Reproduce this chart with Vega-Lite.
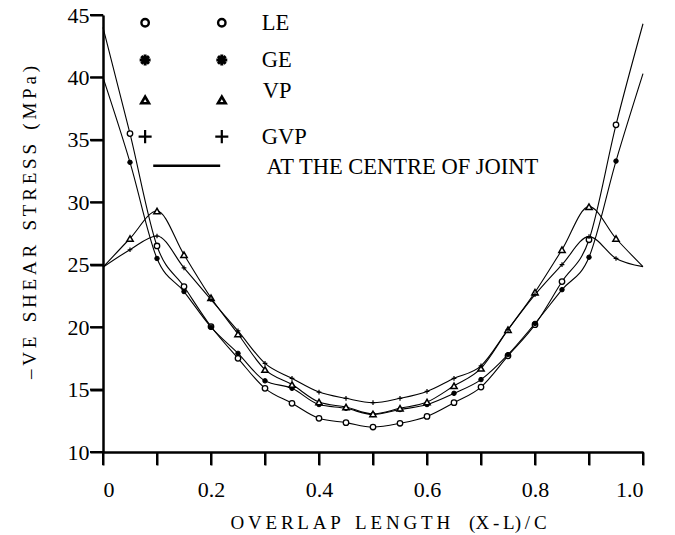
{
  "$schema": "https://vega.github.io/schema/vega-lite/v6.json",
  "width": 540,
  "height": 437,
  "autosize": {"type": "none"},
  "padding": {"left": 103, "top": 15, "right": 32, "bottom": 83},
  "background": "white",
  "config": {
    "view": {"stroke": null},
    "font": "Liberation Serif",
    "axis": {
      "grid": false,
      "domainColor": "black",
      "domainWidth": 2.5,
      "tickColor": "black",
      "tickWidth": 2,
      "labelColor": "black",
      "titleColor": "black",
      "labelFont": "Liberation Serif",
      "titleFont": "Liberation Serif",
      "titleFontWeight": "normal"
    }
  },
  "datasets": {
    "curves": [
      {"series": "LE", "x": 0, "y": 44.0}, {"series": "LE", "x": 0.05, "y": 35.5}, {"series": "LE", "x": 0.1, "y": 26.5},
      {"series": "LE", "x": 0.15, "y": 23.25}, {"series": "LE", "x": 0.2, "y": 20.05}, {"series": "LE", "x": 0.25, "y": 17.5},
      {"series": "LE", "x": 0.3, "y": 15.1}, {"series": "LE", "x": 0.35, "y": 13.9}, {"series": "LE", "x": 0.4, "y": 12.7},
      {"series": "LE", "x": 0.45, "y": 12.35}, {"series": "LE", "x": 0.5, "y": 12.0}, {"series": "LE", "x": 0.55, "y": 12.3},
      {"series": "LE", "x": 0.6, "y": 12.85}, {"series": "LE", "x": 0.65, "y": 13.95}, {"series": "LE", "x": 0.7, "y": 15.2},
      {"series": "LE", "x": 0.75, "y": 17.7}, {"series": "LE", "x": 0.8, "y": 20.2}, {"series": "LE", "x": 0.85, "y": 23.65},
      {"series": "LE", "x": 0.9, "y": 27.0}, {"series": "LE", "x": 0.95, "y": 36.2}, {"series": "LE", "x": 1.0, "y": 44.3},

      {"series": "GE", "x": 0, "y": 40.0}, {"series": "GE", "x": 0.05, "y": 33.2}, {"series": "GE", "x": 0.1, "y": 25.5},
      {"series": "GE", "x": 0.15, "y": 22.85}, {"series": "GE", "x": 0.2, "y": 20.0}, {"series": "GE", "x": 0.25, "y": 17.9},
      {"series": "GE", "x": 0.3, "y": 15.7}, {"series": "GE", "x": 0.35, "y": 15.1}, {"series": "GE", "x": 0.4, "y": 13.8},
      {"series": "GE", "x": 0.45, "y": 13.5}, {"series": "GE", "x": 0.5, "y": 13.0}, {"series": "GE", "x": 0.55, "y": 13.4},
      {"series": "GE", "x": 0.6, "y": 13.8}, {"series": "GE", "x": 0.65, "y": 14.7}, {"series": "GE", "x": 0.7, "y": 15.8},
      {"series": "GE", "x": 0.75, "y": 17.8}, {"series": "GE", "x": 0.8, "y": 20.3}, {"series": "GE", "x": 0.85, "y": 23.0},
      {"series": "GE", "x": 0.9, "y": 25.6}, {"series": "GE", "x": 0.95, "y": 33.3}, {"series": "GE", "x": 1.0, "y": 40.3},

      {"series": "VP", "x": 0, "y": 24.8}, {"series": "VP", "x": 0.05, "y": 27.1}, {"series": "VP", "x": 0.1, "y": 29.3},
      {"series": "VP", "x": 0.15, "y": 25.8}, {"series": "VP", "x": 0.2, "y": 22.35}, {"series": "VP", "x": 0.25, "y": 19.45},
      {"series": "VP", "x": 0.3, "y": 16.6}, {"series": "VP", "x": 0.35, "y": 15.4}, {"series": "VP", "x": 0.4, "y": 14.0},
      {"series": "VP", "x": 0.45, "y": 13.6}, {"series": "VP", "x": 0.5, "y": 13.05}, {"series": "VP", "x": 0.55, "y": 13.5},
      {"series": "VP", "x": 0.6, "y": 14.0}, {"series": "VP", "x": 0.65, "y": 15.3}, {"series": "VP", "x": 0.7, "y": 16.7},
      {"series": "VP", "x": 0.75, "y": 19.8}, {"series": "VP", "x": 0.8, "y": 22.8}, {"series": "VP", "x": 0.85, "y": 26.2},
      {"series": "VP", "x": 0.9, "y": 29.65}, {"series": "VP", "x": 0.95, "y": 27.1}, {"series": "VP", "x": 1.0, "y": 24.85},

      {"series": "GVP", "x": 0, "y": 24.8}, {"series": "GVP", "x": 0.05, "y": 26.2}, {"series": "GVP", "x": 0.1, "y": 27.3},
      {"series": "GVP", "x": 0.15, "y": 24.75}, {"series": "GVP", "x": 0.2, "y": 22.2}, {"series": "GVP", "x": 0.25, "y": 19.7},
      {"series": "GVP", "x": 0.3, "y": 17.1}, {"series": "GVP", "x": 0.35, "y": 15.9}, {"series": "GVP", "x": 0.4, "y": 14.8},
      {"series": "GVP", "x": 0.45, "y": 14.3}, {"series": "GVP", "x": 0.5, "y": 13.95}, {"series": "GVP", "x": 0.55, "y": 14.3},
      {"series": "GVP", "x": 0.6, "y": 14.85}, {"series": "GVP", "x": 0.65, "y": 15.9}, {"series": "GVP", "x": 0.7, "y": 16.9},
      {"series": "GVP", "x": 0.75, "y": 19.8}, {"series": "GVP", "x": 0.8, "y": 22.6}, {"series": "GVP", "x": 0.85, "y": 25.0},
      {"series": "GVP", "x": 0.9, "y": 27.25}, {"series": "GVP", "x": 0.95, "y": 25.5}, {"series": "GVP", "x": 1.0, "y": 24.85}
    ],
    "xTicks": [
      {"x": 0}, {"x": 0.1}, {"x": 0.2}, {"x": 0.3}, {"x": 0.4}, {"x": 0.5},
      {"x": 0.6}, {"x": 0.7}, {"x": 0.8}, {"x": 0.9}, {"x": 1.0}
    ],
    "yTicks": [
      {"y": 10}, {"y": 15}, {"y": 20}, {"y": 25}, {"y": 30}, {"y": 35}, {"y": 40}, {"y": 45}
    ],
    "keySymbols": [
      {"series": "LE", "x": 0.078, "y": 44.38}, {"series": "LE", "x": 0.22, "y": 44.38},
      {"series": "GE", "x": 0.078, "y": 41.4}, {"series": "GE", "x": 0.22, "y": 41.4},
      {"series": "VP", "x": 0.078, "y": 38.2}, {"series": "VP", "x": 0.22, "y": 38.2},
      {"series": "GVP", "x": 0.078, "y": 35.26}, {"series": "GVP", "x": 0.22, "y": 35.26}
    ],
    "keyLabels": [
      {"label": "LE", "x": 0.294, "y": 44.38},
      {"label": "GE", "x": 0.294, "y": 41.4},
      {"label": "VP", "x": 0.296, "y": 38.9},
      {"label": "GVP", "x": 0.294, "y": 35.26},
      {"label": "AT THE CENTRE OF JOINT", "x": 0.303, "y": 32.8}
    ],
    "keyLine": [
      {"x": 0.093, "x2": 0.217, "y": 32.93}
    ]
  },
  "layer": [
    {
      "data": {"name": "curves"},
      "mark": {"type": "line", "interpolate": "monotone", "stroke": "black", "strokeWidth": 1.1},
      "encoding": {
        "x": {
          "field": "x", "type": "quantitative",
          "scale": {"domain": [0, 1], "nice": false, "zero": false},
          "axis": {
            "title": "O\u2009V\u2009E\u2009R\u2009L\u2009A\u2009P\u00a0\u00a0\u00a0L\u2009E\u2009N\u2009G\u2009T\u2009H\u00a0\u00a0\u00a0\u00a0(X\u2009-\u2009L)\u2009/\u2009C",
            "values": [0, 0.1, 0.2, 0.3, 0.4, 0.5, 0.6, 0.7, 0.8, 0.9, 1.0],
            "labelExpr": "round(datum.value * 10) % 2 == 0 ? (datum.value == 0 ? '0' : format(datum.value, '.1f')) : ''",
            "ticks": true,
            "tickSize": 13,
            "labelPadding": 14,
            "labelFontSize": 22,
            "titleFontSize": 19,
            "titleX": 285,
            "titleY": 70,
            "titleBaseline": "middle",
            "titleAlign": "center"
          }
        },
        "y": {
          "field": "y", "type": "quantitative",
          "scale": {"domain": [10, 45], "nice": false, "zero": false},
          "axis": {
            "title": "–\u2009V\u2009E\u00a0\u00a0\u00a0S\u2009H\u2009E\u2009A\u2009R\u00a0\u00a0\u00a0S\u2009T\u2009R\u2009E\u2009S\u2009S\u00a0\u00a0\u00a0(\u2009M\u2009P\u2009a\u2009)",
            "values": [10, 15, 20, 25, 30, 35, 40, 45],
            "ticks": true,
            "tickSize": 13,
            "labelPadding": 1,
            "labelFontSize": 22,
            "titleFontSize": 19,
            "titleX": -64,
            "titleY": 207,
            "titleAlign": "center",
            "titleAngle": -90
          }
        },
        "detail": {"field": "series"}
      }
    },
    {
      "data": {"name": "xTicks"},
      "mark": {"type": "tick", "orient": "vertical", "color": "black", "size": 13, "thickness": 2, "opacity": 1, "clip": false},
      "encoding": {
        "x": {"field": "x", "type": "quantitative"},
        "y": {"datum": 9.48, "type": "quantitative"}
      }
    },
    {
      "data": {"name": "yTicks"},
      "mark": {"type": "tick", "orient": "horizontal", "color": "black", "size": 13, "thickness": 2, "opacity": 1, "clip": false},
      "encoding": {
        "y": {"field": "y", "type": "quantitative"},
        "x": {"datum": -0.012, "type": "quantitative"}
      }
    },
    {
      "data": {"name": "curves"},
      "transform": [{"filter": "datum.series == 'LE' && datum.x > 0 && datum.x < 1"}],
      "mark": {"type": "point", "shape": "circle", "size": 30, "fill": "white", "stroke": "black", "strokeWidth": 1.3, "opacity": 1, "filled": true},
      "encoding": {"x": {"field": "x", "type": "quantitative"}, "y": {"field": "y", "type": "quantitative"}}
    },
    {
      "data": {"name": "curves"},
      "transform": [{"filter": "datum.series == 'GE' && datum.x > 0 && datum.x < 1"}],
      "mark": {"type": "point", "shape": "circle", "size": 20, "fill": "black", "stroke": "black", "strokeWidth": 1, "opacity": 1, "filled": true},
      "encoding": {"x": {"field": "x", "type": "quantitative"}, "y": {"field": "y", "type": "quantitative"}}
    },
    {
      "data": {"name": "curves"},
      "transform": [{"filter": "datum.series == 'VP' && datum.x > 0 && datum.x < 1"}],
      "mark": {"type": "point", "shape": "triangle-up", "size": 40, "fill": "white", "stroke": "black", "strokeWidth": 1.5, "opacity": 1, "filled": true},
      "encoding": {"x": {"field": "x", "type": "quantitative"}, "y": {"field": "y", "type": "quantitative"}}
    },
    {
      "data": {"name": "curves"},
      "transform": [{"filter": "datum.series == 'GVP' && datum.x > 0 && datum.x < 1"}],
      "mark": {"type": "point", "shape": "M-1,0H1M0,-1V1", "size": 22, "stroke": "black", "strokeWidth": 1.2, "opacity": 1, "filled": false},
      "encoding": {"x": {"field": "x", "type": "quantitative"}, "y": {"field": "y", "type": "quantitative"}}
    },
    {
      "data": {"name": "keySymbols"},
      "transform": [{"filter": "datum.series == 'LE'"}],
      "mark": {"type": "point", "shape": "circle", "size": 55, "fill": "white", "stroke": "black", "strokeWidth": 2.4, "opacity": 1, "filled": true},
      "encoding": {"x": {"field": "x", "type": "quantitative"}, "y": {"field": "y", "type": "quantitative"}}
    },
    {
      "data": {"name": "keySymbols"},
      "transform": [{"filter": "datum.series == 'GE'"}],
      "mark": {"type": "point", "shape": "M-1,0H1M0,-1V1M-0.7,-0.7L0.7,0.7M-0.7,0.7L0.7,-0.7", "size": 120, "stroke": "black", "strokeWidth": 3, "opacity": 1, "filled": false},
      "encoding": {"x": {"field": "x", "type": "quantitative"}, "y": {"field": "y", "type": "quantitative"}}
    },
    {
      "data": {"name": "keySymbols"},
      "transform": [{"filter": "datum.series == 'VP'"}],
      "mark": {"type": "point", "shape": "triangle-up", "size": 60, "fill": "white", "stroke": "black", "strokeWidth": 2.6, "opacity": 1, "filled": true},
      "encoding": {"x": {"field": "x", "type": "quantitative"}, "y": {"field": "y", "type": "quantitative"}}
    },
    {
      "data": {"name": "keySymbols"},
      "transform": [{"filter": "datum.series == 'GVP'"}],
      "mark": {"type": "point", "shape": "M-1,0H1M0,-1V1", "size": 170, "stroke": "black", "strokeWidth": 2.2, "opacity": 1, "filled": false},
      "encoding": {"x": {"field": "x", "type": "quantitative"}, "y": {"field": "y", "type": "quantitative"}}
    },
    {
      "data": {"name": "keyLine"},
      "mark": {"type": "rule", "stroke": "black", "strokeWidth": 2.5},
      "encoding": {
        "x": {"field": "x", "type": "quantitative"},
        "x2": {"field": "x2"},
        "y": {"field": "y", "type": "quantitative"}
      }
    },
    {
      "data": {"name": "keyLabels"},
      "mark": {"type": "text", "align": "left", "baseline": "middle", "fontSize": 22.5, "font": "Liberation Serif", "color": "black"},
      "encoding": {
        "x": {"field": "x", "type": "quantitative"},
        "y": {"field": "y", "type": "quantitative"},
        "text": {"field": "label"}
      }
    }
  ]
}
